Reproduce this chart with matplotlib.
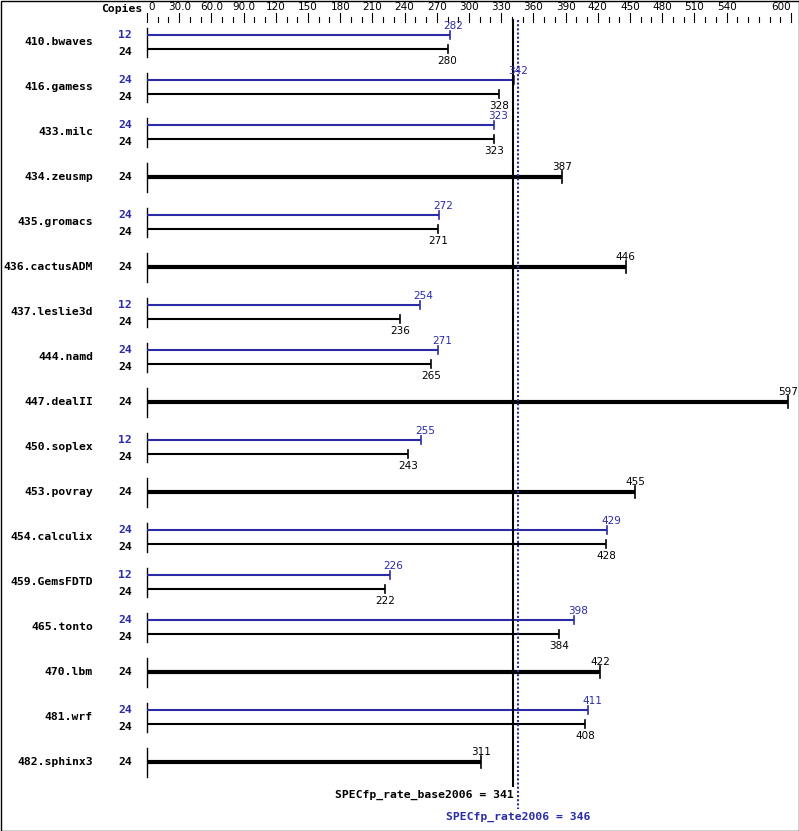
import numpy as np
import matplotlib.pyplot as plt
import matplotlib.transforms as mtrans
from matplotlib.patches import Rectangle

# Benchmarks and results (peak = blue, base = black); None = base only
names = ['410.bwaves', '416.gamess', '433.milc', '434.zeusmp', '435.gromacs',
         '436.cactusADM', '437.leslie3d', '444.namd', '447.dealII', '450.soplex',
         '453.povray', '454.calculix', '459.GemsFDTD', '465.tonto', '470.lbm',
         '481.wrf', '482.sphinx3']
base_copies = [24, 24, 24, 24, 24, 24, 24, 24, 24, 24, 24, 24, 24, 24, 24, 24, 24]
base_vals = [280, 328, 323, 387, 271, 446, 236, 265, 597, 243, 455, 428, 222, 384, 422, 408, 311]
peak_copies = [12, 24, 24, None, 24, None, 12, 24, None, 12, None, 24, 12, 24, None, 24, None]
peak_vals = [282, 342, 323, None, 272, None, 254, 271, None, 255, None, 429, 226, 398, None, 411, None]

base_score = 341
peak_score = 346
xticks_major = [0, 30, 60, 90, 120, 150, 180, 210, 240, 270, 300, 330, 360, 390,
                420, 450, 480, 510, 540, 600]
xtick_labels = ['0', '30.0', '60.0', '90.0', '120', '150', '180', '210', '240', '270',
                '300', '330', '360', '390', '420', '450', '480', '510', '540', '600']

BLUE = '#2b2ba8'
W, H = 799, 831
fig = plt.figure(figsize=(W / 100, H / 100), dpi=100)
x0, x1 = 147, 791
ax = fig.add_axes([x0 / W, 0, (x1 - x0) / W, 1])
ax.set_xlim(0, 600)
px = 600 / (x1 - x0)  # data units per pixel
# row i centred at pixel 42 + 45*i
ry = 1 / 45
ax.set_ylim((H - 42) / 45, -42 / 45)
ax.axis('off')

bold = dict(family='DejaVu Sans Mono', fontweight='bold', fontsize=8.2)
thin = dict(family='DejaVu Sans', fontsize=7.5)
lab = mtrans.blended_transform_factory(fig.transFigure, ax.transData)

# top scale
for v in np.arange(0, 601, 10):
    ln = 9 if v in xticks_major else 5
    ax.plot([v, v], [(22 - ln - 42) * ry, (22 - 42) * ry], color='black', lw=0.8,
            clip_on=False)
for v, t in zip(xticks_major, xtick_labels):
    ha = 'left' if v == 0 else ('right' if v == 600 else 'center')
    ax.text(v + (1 * px if v == 0 else 0), (7 - 42) * ry, t, ha=ha, va='center',
            **thin)
fig.text(142 / W, 1 - 9 / H, 'Copies', ha='right', va='center', **bold)

for i, name in enumerate(names):
    fig.text(93 / W, i, name, transform=lab, ha='right', va='center', **bold)
    ax.plot([0, 0], [i - 14 * ry, i + 15 * ry], color='black', lw=1, clip_on=False)
    b = base_vals[i]
    if peak_vals[i] is None:
        ax.plot([0, b], [i, i], color='black', lw=3, solid_capstyle='butt')
        ax.plot([b, b], [i - 6 * ry, i + 6 * ry], color='black', lw=1.2)
        ax.text(b, i - 10 * ry, str(b), ha='center', va='center', **thin)
        fig.text(125 / W, i, str(base_copies[i]), transform=lab, ha='center',
                 va='center', **bold)
    else:
        p = peak_vals[i]
        yp, yb = i - 7 * ry, i + 7 * ry
        ax.plot([0, p], [yp, yp], color=BLUE, lw=1.5, solid_capstyle='butt')
        ax.plot([p, p], [yp - 4 * ry, yp + 4 * ry], color=BLUE, lw=1.2)
        ax.text(p + 4 * px, yp - 9 * ry, str(p), ha='center', va='center', color=BLUE,
                **thin)
        ax.plot([0, b], [yb, yb], color='black', lw=1.5, solid_capstyle='butt')
        ax.plot([b, b], [yb - 4 * ry, yb + 4 * ry], color='black', lw=1.2)
        ax.text(b, yb + 12 * ry, str(b), ha='center', va='center', **thin)
        fig.text(125 / W, yp, str(peak_copies[i]), transform=lab, ha='center',
                 va='center', color=BLUE, **bold)
        fig.text(125 / W, yb + 3 * ry, str(base_copies[i]), transform=lab, ha='center',
                 va='center', **bold)

ax.plot([base_score, base_score], [(20 - 42) * ry, (786 - 42) * ry], color='black',
        lw=1.5, clip_on=False)
ax.plot([peak_score, peak_score], [(20 - 42) * ry, (809 - 42) * ry], color=BLUE,
        lw=1.5, ls=(0, (1, 1)), clip_on=False)
ax.text(base_score + 1 * px, (795 - 42) * ry, 'SPECfp_rate_base2006 = %d' % base_score,
        ha='right', va='center', **bold)
ax.text(peak_score, (817 - 42) * ry, 'SPECfp_rate2006 = %d' % peak_score,
        ha='center', va='center', color=BLUE, **bold)

fig.patches.append(Rectangle((0.5 / W, 0.5 / H), (W - 1) / W, (H - 1) / H,
                             transform=fig.transFigure, fill=False, ec='black', lw=1))
fig.savefig('out.png', dpi=100)
